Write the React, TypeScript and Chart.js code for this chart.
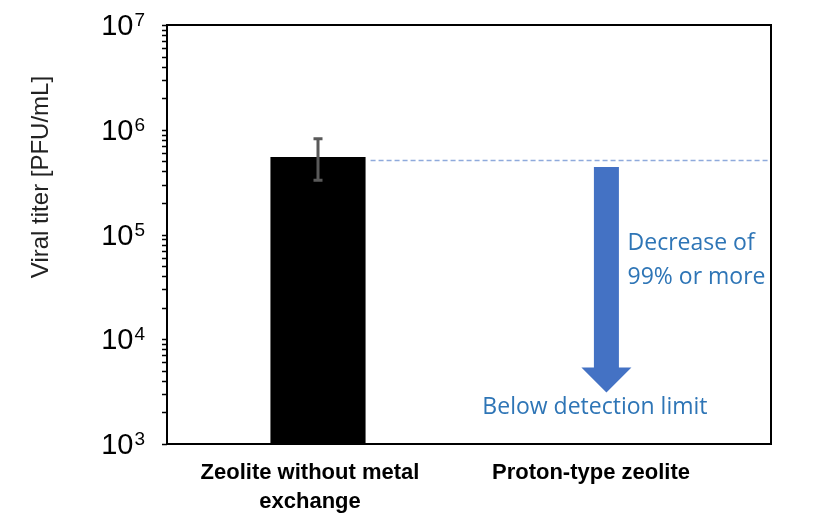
import React, { useEffect, useRef } from "react";
import { Chart, registerables } from "chart.js";

Chart.register(...registerables);

const categories: string[][] = [["Zeolite without metal", "exchange"], ["Proton-type zeolite"]];
const titerValues: (number | null)[] = [5.5e5, null];
const errorUpper: (number | null)[] = [8.2e5, null];
const errorLower: (number | null)[] = [3.3e5, null];
const detectionLimitValue = 5.1e5;
const arrowIndex = 0.955;
const arrowTopValue = 4.4e5;
const arrowTipValue = 3.1e3;
const decreaseTexts = ["Decrease of", "99% or more"];
const decreaseTextValues = [8.3e4, 3.9e4];
const decreaseTextIndex = 1.025;
const belowText = "Below detection limit";
const belowTextValue = 2.25e3;
const belowTextIndex = 0.917;
const yTickPowers = [3, 4, 5, 6, 7];
const yTitle = "Viral titer [PFU/mL]";

const BLUE_TEXT = "#2e75b6";
const BLUE_FILL = "#4472c4";

const customPlugin = {
  id: "custom",
  afterDatasetsDraw(chart: any) {
    const ctx = chart.ctx;
    const x = chart.scales.x;
    const y = chart.scales.y;
    const area = chart.chartArea;
    ctx.save();
    // error bars
    const meta = chart.getDatasetMeta(0);
    titerValues.forEach((v, i) => {
      const up = errorUpper[i];
      const lo = errorLower[i];
      if (v == null || up == null || lo == null) return;
      const px = x.getPixelForValue(i);
      const yu = y.getPixelForValue(up);
      const yl = y.getPixelForValue(lo);
      ctx.strokeStyle = "#595959";
      ctx.lineWidth = 3;
      ctx.beginPath();
      ctx.moveTo(px, yu);
      ctx.lineTo(px, yl);
      ctx.moveTo(px - 4.5, yu);
      ctx.lineTo(px + 4.5, yu);
      ctx.moveTo(px - 4.5, yl);
      ctx.lineTo(px + 4.5, yl);
      ctx.stroke();
    });
    // detection limit dashed line
    const bar = meta.data[0];
    const startX = bar.x + bar.width / 2 + 5;
    const dy = y.getPixelForValue(detectionLimitValue);
    ctx.strokeStyle = "#8faadc";
    ctx.lineWidth = 1.5;
    ctx.setLineDash([5, 3]);
    ctx.beginPath();
    ctx.moveTo(startX, dy);
    ctx.lineTo(area.right, dy);
    ctx.stroke();
    ctx.setLineDash([]);
    // arrow
    const ax = x.getPixelForValue(arrowIndex);
    const aTop = y.getPixelForValue(arrowTopValue);
    const aTip = y.getPixelForValue(arrowTipValue);
    const headH = 25;
    ctx.fillStyle = BLUE_FILL;
    ctx.beginPath();
    ctx.moveTo(ax - 12.5, aTop);
    ctx.lineTo(ax + 12.5, aTop);
    ctx.lineTo(ax + 12.5, aTip - headH);
    ctx.lineTo(ax + 25, aTip - headH);
    ctx.lineTo(ax, aTip);
    ctx.lineTo(ax - 25, aTip - headH);
    ctx.lineTo(ax - 12.5, aTip - headH);
    ctx.closePath();
    ctx.fill();
    // annotation texts
    ctx.fillStyle = BLUE_TEXT;
    ctx.font = '23px "Open Sans"';
    ctx.textBaseline = "middle";
    ctx.textAlign = "left";
    decreaseTexts.forEach((t, i) => {
      ctx.fillText(t, x.getPixelForValue(decreaseTextIndex), y.getPixelForValue(decreaseTextValues[i]));
    });
    ctx.textAlign = "center";
    ctx.fillText(belowText, x.getPixelForValue(belowTextIndex), y.getPixelForValue(belowTextValue));
    ctx.restore();
  },
  afterDraw(chart: any) {
    const ctx = chart.ctx;
    const x = chart.scales.x;
    const y = chart.scales.y;
    const area = chart.chartArea;
    ctx.save();
    // frame
    ctx.strokeStyle = "#000";
    ctx.lineWidth = 2;
    ctx.strokeRect(area.left, area.top, area.right - area.left, area.bottom - area.top);
    // y ticks (major + minor)
    ctx.lineWidth = 1.5;
    ctx.beginPath();
    for (let p = yTickPowers[0]; p <= yTickPowers[yTickPowers.length - 1]; p++) {
      const maxM = p === yTickPowers[yTickPowers.length - 1] ? 1 : 9;
      for (let m = 1; m <= maxM; m++) {
        const py = Math.round(y.getPixelForValue(m * Math.pow(10, p))) + 0.5;
        ctx.moveTo(area.left - 5, py);
        ctx.lineTo(area.left, py);
      }
    }
    ctx.stroke();
    // y tick labels
    ctx.fillStyle = "#000";
    ctx.textBaseline = "alphabetic";
    yTickPowers.forEach((p) => {
      const py = y.getPixelForValue(Math.pow(10, p));
      const sup = String(p);
      ctx.font = '19px "Liberation Sans"';
      const supW = ctx.measureText(sup).width;
      const right = 145;
      ctx.textAlign = "right";
      ctx.fillText(sup, right, py + 1);
      ctx.font = '29px "Liberation Sans"';
      ctx.fillText("10", right - supW - 1, py + 10);
    });
    // x labels
    const shifts = [-8, -29];
    ctx.font = 'bold 22px "Liberation Sans"';
    ctx.textAlign = "center";
    ctx.textBaseline = "middle";
    categories.forEach((lines, i) => {
      const px = x.getPixelForValue(i) + shifts[i];
      lines.forEach((l, j) => {
        ctx.fillText(l, px, 473 + j * 29);
      });
    });
    // y title
    ctx.fillStyle = "#222";
    ctx.font = '24px "Liberation Sans"';
    ctx.translate(41, 177);
    ctx.rotate(-Math.PI / 2);
    ctx.textAlign = "center";
    ctx.textBaseline = "middle";
    ctx.fillText(yTitle, 0, 0);
    ctx.restore();
  },
};

export default function App() {
  const ref = useRef<HTMLCanvasElement | null>(null);
  useEffect(() => {
    document.body.style.margin = "0";
    const chart = new Chart(ref.current as HTMLCanvasElement, {
      type: "bar",
      data: {
        labels: categories.map((c) => c.join(" ")),
        datasets: [
          {
            data: titerValues as any,
            backgroundColor: "#000000",
            borderWidth: 0,
            categoryPercentage: 1,
            barPercentage: 0.315,
          },
        ],
      },
      options: {
        animation: false,
        responsive: true,
        maintainAspectRatio: false,
        layout: { padding: { top: 25, right: 43, left: 0, bottom: 0 } },
        plugins: { legend: { display: false }, tooltip: { enabled: false } },
        scales: {
          x: {
            grid: { display: false },
            border: { display: false },
            ticks: { display: false },
            afterFit: (s: any) => {
              s.height = 83;
            },
          },
          y: {
            type: "logarithmic",
            min: 1000,
            max: 1e7,
            grid: { display: false },
            border: { display: false },
            ticks: { display: false },
            afterFit: (s: any) => {
              s.width = 167;
            },
          },
        },
      },
      plugins: [customPlugin],
    });
    return () => chart.destroy();
  }, []);
  return (
    <div style={{ width: 814, height: 527, position: "relative" }}>
      <canvas ref={ref} />
    </div>
  );
}
